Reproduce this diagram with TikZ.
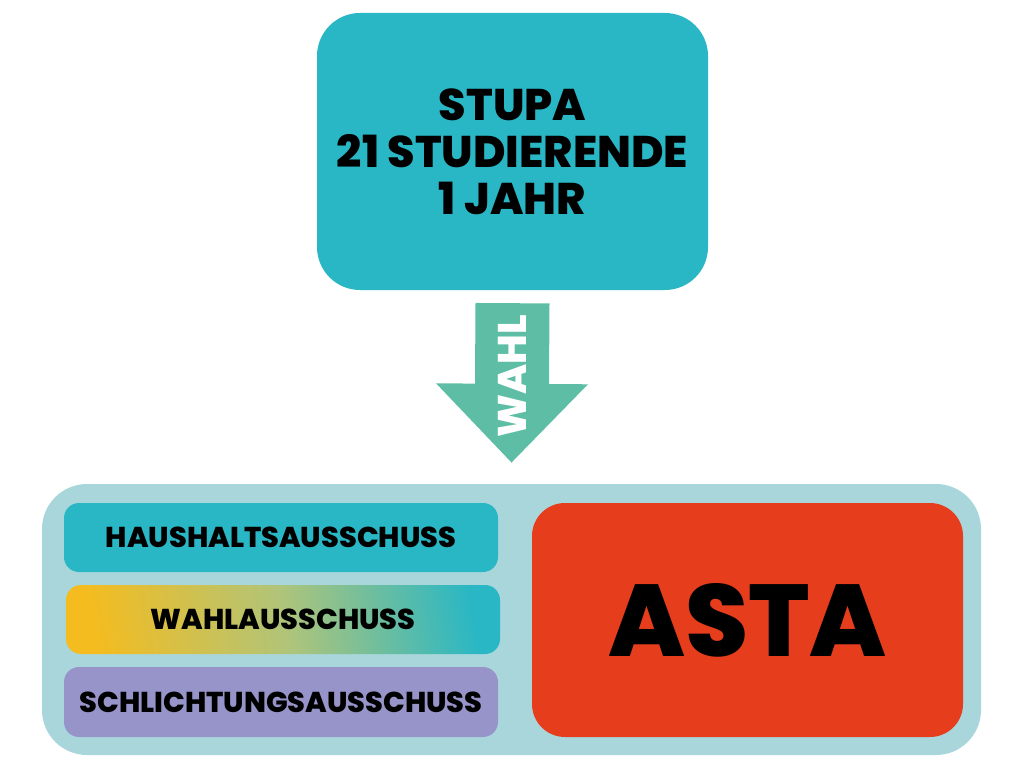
\documentclass[tikz,border=0pt]{standalone}
\usepackage{fontspec}
\setmainfont{Poppins}[BoldFont={Poppins ExtraBold}]
\usetikzlibrary{calc,positioning,arrows.meta}
\definecolor{tuerkis}{HTML}{29B7C5}
\definecolor{hellblau}{HTML}{A9D6DB}
\definecolor{mint}{HTML}{5EBEA5}
\definecolor{rot}{HTML}{E63D1D}
\definecolor{lila}{HTML}{9694C9}
\definecolor{gelb}{HTML}{F4BC1F}

\begin{document}
\begin{tikzpicture}[x=1pt, y=-1pt,
    box/.style={rounded corners=#1, inner sep=0pt, align=center, font=\bfseries},
    ausschuss/.style={box=15pt, minimum width=434pt, minimum height=69pt, font=\bfseries\fontsize{28.7}{30}\selectfont},
    wahlpfeil/.style={mint, line width=74pt, -{Triangle[width=147pt, length=79pt]}}]
\useasboundingbox (0,0) rectangle (1024,768);

% Draw the top box
\node[box=43pt, fill=tuerkis, minimum width=391pt, minimum height=277pt,
      font=\bfseries\fontsize{44.3}{47}\selectfont] (stupa) at (512.5,151.5)
      {STUPA\\21 STUDIERENDE\\1 JAHR};

% Draw the container with the committees and the AStA
\node[box=45pt, fill=hellblau, minimum width=939pt, minimum height=271pt] (gremium) at (511.5,619.5) {};
\node[ausschuss, fill=tuerkis] (haushalt) at (281,537.5) {HAUSHALTSAUSSCHUSS};
\node[ausschuss, left color=gelb, right color=tuerkis, middle color=gelb!60!tuerkis!85!white, shading angle=100] (wahlaus) at (283,619.5) {WAHLAUSSCHUSS};
\node[ausschuss, fill=lila, minimum height=70pt] (schlicht) at (281,702) {SCHLICHTUNGSAUSSCHUSS};
\node[box=33pt, fill=rot, minimum width=431pt, minimum height=234pt,
      font=\bfseries\fontsize{102}{110}\selectfont] (asta) at (747.5,620) {ASTA};

% Draw the arrow
\coordinate (pfeilanfang) at ($(stupa.south)+(0,13)$);
\coordinate (pfeilende) at ($(gremium.north)+(0,-21)$);
\draw[wahlpfeil] (pfeilanfang) -- (pfeilende);
\path (pfeilanfang) -- (pfeilende) node[pos=0.46, rotate=90, text=white, font=\bfseries\fontsize{40}{42}\selectfont] (wahl) {WAHL};
\end{tikzpicture}
\end{document}
